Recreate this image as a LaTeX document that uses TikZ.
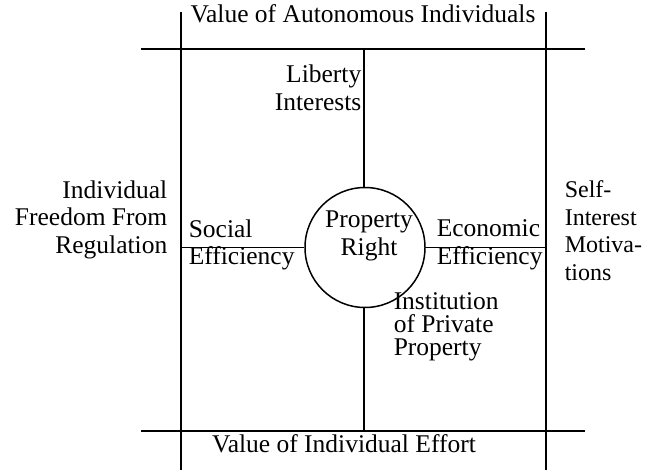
\documentclass[tikz,border=0pt]{standalone}
\usepackage{fontspec}
\setmainfont{Liberation Serif}
\begin{document}
\begin{tikzpicture}[x=1pt,y=-1pt,line width=1.5pt,
    txt/.style={inner sep=0pt,font=\fontsize{25.5}{27.5}\selectfont},
    txtl/.style={txt,anchor=west,align=left},
    txtr/.style={txt,anchor=east,align=right}]
    \useasboundingbox (0,0) rectangle (647,470);

    % Frame
    \coordinate (tl) at (141,49);
    \coordinate (tr) at (585,49);
    \coordinate (bl) at (141,431);
    \coordinate (br) at (585,431);
    \coordinate (lt) at (181,12);
    \coordinate (lb) at (181,470);
    \coordinate (rt) at (546,12);
    \coordinate (rb) at (546,470);
    \draw (tl) -- (tr);
    \draw (bl) -- (br);
    \draw (lt) -- (lb);
    \draw (rt) -- (rb);

    % Property right circle and spokes
    \node[circle, draw, minimum size=120pt, inner sep=0pt] (pr) at (365,247.5) {};
    \node[txt, align=center] (prtext) at (369,236) {Property\\Right};
    \coordinate (ctop) at (364,49);
    \coordinate (cbot) at (364,431);
    \coordinate (cleft) at (181,247.5);
    \coordinate (cright) at (546,247.5);
    \draw (ctop) -- (ctop |- pr.north);
    \draw (cbot) -- (cbot |- pr.south);
    \draw (cleft) -- (pr.west);
    \draw (pr.east) -- (cright);

    % Inner labels
    \node[txtr] (liberty) at (362,88) {Liberty\\Interests};
    \node[txtl] (social) at (188,245) {Social\\Efficiency};
    \node[txtl] (economic) at (436,245) {Economic\\Efficiency};
    \node[txtl, font=\fontsize{25.5}{23}\selectfont] (institution) at (393,327) {Institution\\of Private\\Property};

    % Outer labels
    \node[txt, anchor=base] (autonomy) at (363,23) {Value of Autonomous Individuals};
    \node[txt, anchor=base] (effort) at (344,452) {Value of Individual Effort};
    \node[txtr] (freedom) at (168,219.5) {Individual\\Freedom From\\Regulation};
    \node[txtl, font=\fontsize{24}{27.5}\selectfont] (selfint) at (564,230.5) {Self-\\Interest\\Motiva-\\tions};
\end{tikzpicture}
\end{document}
